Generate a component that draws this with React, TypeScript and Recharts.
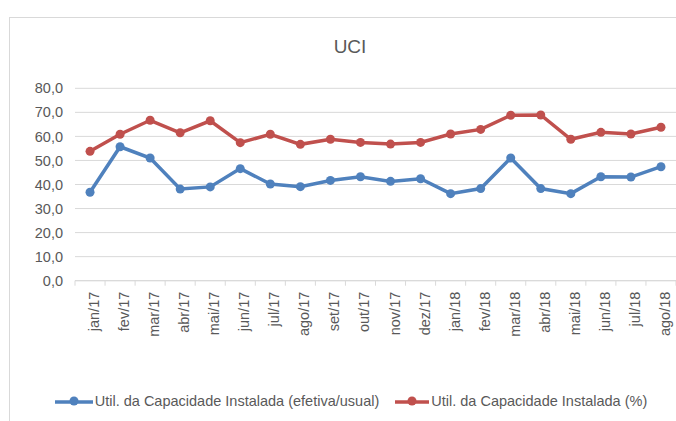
import React from 'react';
import { LineChart, Line, XAxis, YAxis, CartesianGrid } from 'recharts';

const months = ['jan/17','fev/17','mar/17','abr/17','mai/17','jun/17','jul/17','ago/17','set/17','out/17','nov/17','dez/17','jan/18','fev/18','mar/18','abr/18','mai/18','jun/18','jul/18','ago/18'];
const efetivaUsual = [36.8,55.7,51.0,38.1,39.0,46.6,40.2,39.1,41.7,43.2,41.3,42.4,36.2,38.3,51.0,38.3,36.2,43.2,43.1,47.4];
const percentual = [53.8,60.9,66.7,61.5,66.5,57.4,60.9,56.7,58.8,57.5,56.8,57.5,61.0,62.9,68.8,68.9,58.8,61.7,61.0,63.8];
const yTicks = [0,10,20,30,40,50,60,70,80];
const seriesNames = ['Util. da Capacidade Instalada (efetiva/usual)', 'Util. da Capacidade Instalada (%)'];

const data = months.map((m, i) => ({ month: m, a: efetivaUsual[i], b: percentual[i] }));

const W = 676;
const H = 421;
const Y_W = 75;
const BLUE = '#4f81bd';
const RED = '#c0504d';
const GRID = '#d9d9d9';
const TXT = '#595959';
const FONT = '"Liberation Sans", Arial, sans-serif';
const BAND = (W - Y_W) / months.length;

const XTick = (props: any) => {
  const { x, y, payload, index } = props;
  const bx = x + 9;
  const by = y + 11;
  return (
    <g>
      <line x1={x - BAND / 2} x2={x - BAND / 2} y1={y} y2={y + 5} stroke={GRID} strokeWidth={1} />
      {index === months.length - 1 && (
        <line x1={x + BAND / 2} x2={x + BAND / 2} y1={y} y2={y + 5} stroke={GRID} strokeWidth={1} />
      )}
      <text x={bx} y={by} transform={`rotate(-90 ${bx} ${by})`} textAnchor="end" fontSize={14.5} fill={TXT} fontFamily={FONT}>
        {payload.value}
      </text>
    </g>
  );
};

const YTick = (props: any) => {
  const { x, y, payload } = props;
  return (
    <text x={x - 12} y={y} dy="0.355em" textAnchor="end" fontSize={14.5} fill={TXT} fontFamily={FONT}>
      {payload.value.toFixed(1).replace('.', ',')}
    </text>
  );
};

const LegendIcon = ({ color, w }: { color: string; w: number }) => (
  <svg width={w} height={12} style={{ display: 'block' }}>
    <line x1={0} x2={w} y1={7} y2={7} stroke={color} strokeWidth={3.5} strokeLinecap="round" />
    <circle cx={w / 2} cy={6} r={4.5} fill={color} />
  </svg>
);

export default function App() {
  return (
    <div style={{ position: 'absolute', left: 0, top: 0, width: W, height: H, overflow: 'hidden', background: '#fff', fontFamily: FONT }}>
      <div style={{ position: 'absolute', left: 9, top: 17, width: 740, height: 480, border: `1px solid ${GRID}` }} />
      <div style={{ position: 'absolute', left: 0, width: 700, top: 35, textAlign: 'center', fontSize: 19, color: TXT, lineHeight: '24px' }}>
        UCI
      </div>
      <div style={{ position: 'absolute', left: 0, top: 0 }}>
        <LineChart width={W} height={H} data={data} margin={{ top: 88.3, right: 0, left: 0, bottom: 80.3 }}>
          <CartesianGrid vertical={false} stroke={GRID} strokeWidth={1} />
          <XAxis
            dataKey="month"
            height={60}
            interval={0}
            padding={{ left: BAND / 2, right: BAND / 2 }}
            tickLine={false}
            tickSize={0}
            tickMargin={0}
            axisLine={{ stroke: GRID }}
            tick={<XTick />}
          />
          <YAxis
            width={Y_W}
            domain={[0, 80]}
            ticks={yTicks}
            axisLine={false}
            tickLine={false}
            tickSize={0}
            tickMargin={0}
            tick={<YTick />}
          />
          <Line type="linear" dataKey="a" name={seriesNames[0]} stroke={BLUE} strokeWidth={3.5} dot={{ r: 4.5, fill: BLUE, stroke: BLUE, strokeWidth: 0 }} activeDot={false} isAnimationActive={false} />
          <Line type="linear" dataKey="b" name={seriesNames[1]} stroke={RED} strokeWidth={3.5} dot={{ r: 4.5, fill: RED, stroke: RED, strokeWidth: 0 }} activeDot={false} isAnimationActive={false} />
        </LineChart>
      </div>
      <div style={{ position: 'absolute', left: 0, width: 702, top: 391, height: 20, display: 'flex', justifyContent: 'center', alignItems: 'center', fontSize: 14.5, color: TXT, whiteSpace: 'nowrap' }}>
        <LegendIcon color={BLUE} w={38} />
        <span style={{ marginLeft: 2, marginRight: 16 }}>{seriesNames[0]}</span>
        <LegendIcon color={RED} w={34} />
        <span style={{ marginLeft: 2 }}>{seriesNames[1]}</span>
      </div>
    </div>
  );
}
